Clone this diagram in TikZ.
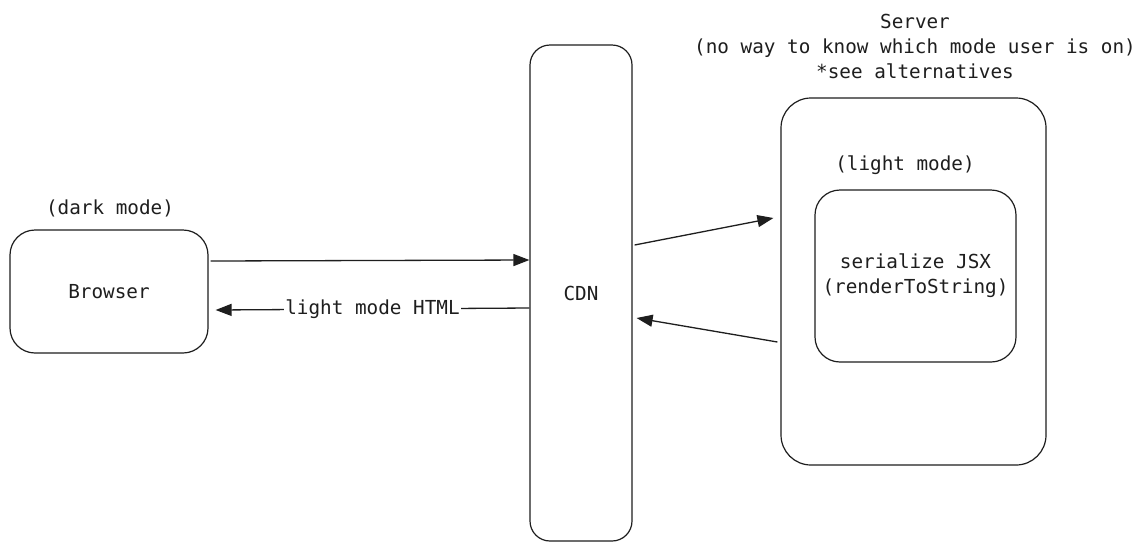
\documentclass[tikz,border=0pt]{standalone}
\usepackage{fontspec}
\setmonofont{DejaVu Sans Mono}
\usetikzlibrary{arrows.meta}
\definecolor{ink}{HTML}{1E1E1E}
\begin{document}
\begin{tikzpicture}[x=1pt,y=-1pt,
  every node/.style={font=\ttfamily\fontsize{19.3}{25}\selectfont, text=ink},
  box/.style={draw=ink, line width=1.2pt, rounded corners=#1, inner sep=0pt},
  box/.default=25pt,
  txt/.style={align=center, inner sep=0pt},
  arr/.style={draw=ink, line width=1.3pt, -{Triangle[length=16pt,width=12pt]}}]
\useasboundingbox[fill=white] (0,0) rectangle (1147,550);
\node[box=25pt, minimum width=198pt, minimum height=123pt] (browser) at (109,291.5) {Browser};
\node[txt] (dark) at (110,208) {(dark mode)};
\node[box=20pt, minimum width=102pt, minimum height=496pt] (cdn) at (581,293) {CDN};
\node[box=30pt, minimum width=265pt, minimum height=367pt] (server) at (913.5,281.5) {};
\node[txt] (light) at (905,165) {(light mode)};
\node[box=25pt, minimum width=201pt, minimum height=172pt, align=center] (inner) at (915.5,276) {serialize JSX\\(renderToString)};
\node[txt] (title) at (915,46) {Server\\(no way to know which mode user is on)\\*see alternatives};
\draw[arr] ([xshift=2pt,yshift=30.5pt]browser.east) -- ([yshift=33pt]cdn.west);
\draw[arr] ([yshift=-15pt]cdn.west) -- node[fill=white, inner sep=1.5pt] (lbl) {light mode HTML} ([xshift=7pt,yshift=-18.5pt]browser.east);
\draw[arr] ([xshift=2pt,yshift=48pt]cdn.east) -- ([xshift=-7pt,yshift=63.5pt]server.west);
\draw[arr] ([xshift=-3pt,yshift=-60.5pt]server.west) -- ([xshift=4pt,yshift=-25pt]cdn.east);
\end{tikzpicture}
\end{document}
